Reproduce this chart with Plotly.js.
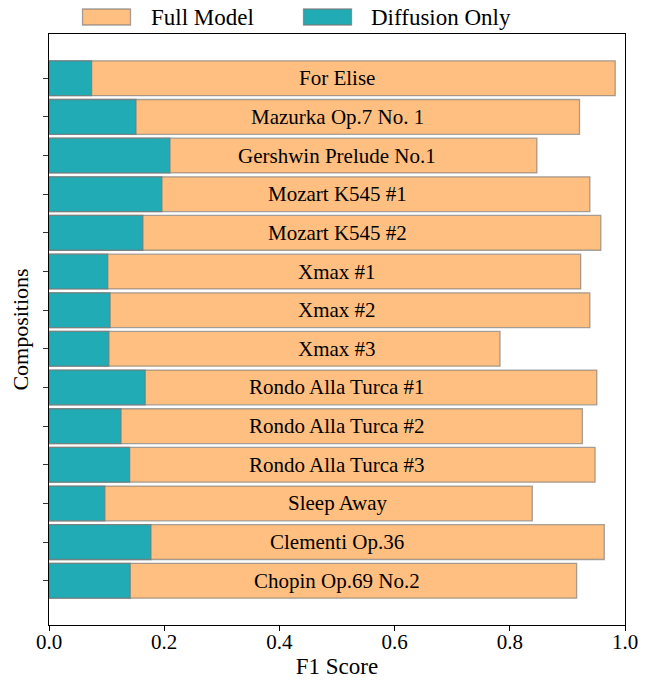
<!DOCTYPE html>
<html>
<head>
<meta charset="utf-8">
<script src="https://cdn.plot.ly/plotly-3.0.1.min.js"></script>
<style>html,body{margin:0;padding:0;background:#fff;}#chart{width:660px;height:685px;}</style>
</head>
<body>
<div id="chart"></div>
<script>
const compositions = ["For Elise","Mazurka Op.7 No. 1","Gershwin Prelude No.1","Mozart K545 #1","Mozart K545 #2","Xmax #1","Xmax #2","Xmax #3","Rondo Alla Turca #1","Rondo Alla Turca #2","Rondo Alla Turca #3","Sleep Away","Clementi Op.36","Chopin Op.69 No.2"];
const fullModel = [0.983,0.921,0.847,0.939,0.958,0.923,0.939,0.783,0.951,0.926,0.948,0.839,0.964,0.916];
const diffusionOnly = [0.074,0.151,0.210,0.196,0.163,0.102,0.106,0.104,0.167,0.125,0.140,0.097,0.177,0.141];
const seriesNames = ["Full Model","Diffusion Only"];
const xTicks = [0,0.2,0.4,0.6,0.8,1.0];

const FONT = "Liberation Serif, DejaVu Serif, serif";
const ORANGE = "#FFBF80";
const TEAL = "#21ABB5";

const traces = [
  {type:"bar", orientation:"h", name:seriesNames[0], y:compositions, x:fullModel, width:0.9,
   marker:{color:ORANGE, line:{color:"rgba(120,120,120,0.65)", width:1.3}}, showlegend:false, hoverinfo:"x+y"},
  {type:"bar", orientation:"h", name:seriesNames[1], y:compositions, x:diffusionOnly, width:0.9,
   marker:{color:TEAL, line:{color:"rgba(120,120,120,0.75)", width:1.3}}, showlegend:false, hoverinfo:"x+y"}
];

const annotations = compositions.map(c => ({
  x:0.5, y:c, xref:"x", yref:"y", text:c, showarrow:false,
  font:{family:FONT, size:21, color:"#000"}, xanchor:"center", yanchor:"middle"
}));
function py(p){ return 1+(33.5-p)/591.5; }
function px(p){ return (p-49)/576; }
// legend text
annotations.push({xref:"paper", yref:"paper", x:px(149), y:py(16.5), text:seriesNames[0], showarrow:false, xanchor:"left", yanchor:"middle", font:{family:FONT, size:23, color:"#000"}});
annotations.push({xref:"paper", yref:"paper", x:px(369), y:py(16.5), text:seriesNames[1], showarrow:false, xanchor:"left", yanchor:"middle", font:{family:FONT, size:23, color:"#000"}});

const shapes = [
  {type:"rect", xref:"paper", yref:"paper", x0:px(82.5), x1:px(130.5), y0:py(24.5), y1:py(8.5), fillcolor:ORANGE, line:{color:"rgba(120,120,120,0.65)", width:1.3}},
  {type:"rect", xref:"paper", yref:"paper", x0:px(303.5), x1:px(351.5), y0:py(24.5), y1:py(8.5), fillcolor:TEAL, line:{color:"rgba(120,120,120,0.75)", width:1.3}}
];

const layout = {
  width:660, height:685,
  margin:{l:49, r:35, t:33.5, b:60, pad:0},
  paper_bgcolor:"#fff", plot_bgcolor:"#fff",
  barmode:"overlay",
  font:{family:FONT, size:18, color:"#000"},
  showlegend:false,
  xaxis:{range:[0,1], tickvals:xTicks, tickformat:".1f", ticks:"outside", ticklen:5, tickwidth:1, tickcolor:"#000",
         ticklabelstandoff:-7,
         showline:true, mirror:true, linecolor:"#000", linewidth:1.2, showgrid:false, zeroline:false,
         tickfont:{family:FONT, size:21}, title:{text:"F1 Score", font:{family:FONT, size:23}, standoff:4}},
  yaxis:{type:"category", categoryarray:compositions, categoryorder:"array", range:[14.145,-1.145],
         ticks:"outside", ticklen:5, tickwidth:1, tickcolor:"#333", showticklabels:false,
         showline:true, mirror:true, linecolor:"#000", linewidth:1.2, showgrid:false, zeroline:false,
         title:{text:"Compositions", font:{family:FONT, size:22}, standoff:8}},
  annotations:annotations,
  shapes:shapes
};
Plotly.newPlot("chart", traces, layout, {displayModeBar:false, staticPlot:true});
</script>
</body>
</html>
